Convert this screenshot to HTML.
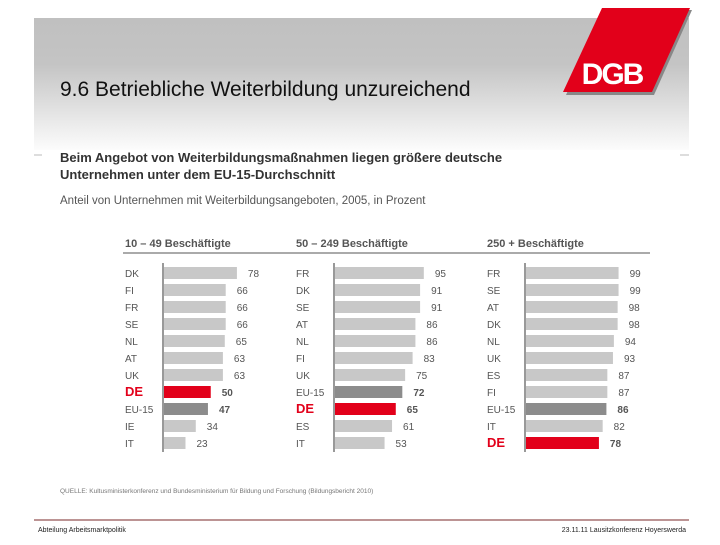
<!DOCTYPE html>
<html><head><meta charset="utf-8"><style>
html,body{margin:0;padding:0;background:#fff}
body{width:720px;height:540px;overflow:hidden;position:relative;font-family:"Liberation Sans",sans-serif}
</style></head><body>
<svg width="720" height="540" xmlns="http://www.w3.org/2000/svg">
<defs><linearGradient id="g" x1="0" y1="0" x2="0" y2="1">
<stop offset="0" stop-color="#c0c0c0"/><stop offset="0.35" stop-color="#c4c4c4"/><stop offset="1" stop-color="#fcfcfc"/></linearGradient></defs>
<rect x="34" y="18" width="655" height="132" fill="url(#g)"/>
<text x="60" y="96" font-size="21" fill="#111">9.6 Betriebliche Weiterbildung unzureichend</text>
<g>
<polygon points="604,10 692,10 654,95 566,95" fill="#888"/>
<polygon points="602,8 690,8 652,92 563,92" fill="#e2001a"/>
<text x="612" y="84" font-size="30" font-weight="bold" fill="#fff" text-anchor="middle" letter-spacing="-2" font-family="Liberation Sans,sans-serif">DGB</text>
</g>
<line x1="34" y1="155" x2="42" y2="155" stroke="#bbb"/><line x1="680" y1="155" x2="689" y2="155" stroke="#bbb"/>
<text x="60" y="162" font-size="13" font-weight="bold" fill="#333">Beim Angebot von Weiterbildungsmaßnahmen liegen größere deutsche</text>
<text x="60" y="179" font-size="13" font-weight="bold" fill="#333">Unternehmen unter dem EU-15-Durchschnitt</text>
<text x="60" y="204" font-size="11.5" fill="#555">Anteil von Unternehmen mit Weiterbildungsangeboten, 2005, in Prozent</text>
<line x1="123" y1="253" x2="650" y2="253" stroke="#555" stroke-width="1"/>
<g id="charts"></g>
<text x="60" y="493" font-size="6.5" fill="#777">QUELLE: Kultusministerkonferenz und Bundesministerium für Bildung und Forschung (Bildungsbericht 2010)</text>
<line x1="34" y1="520" x2="689" y2="520" stroke="#7a2a2a" stroke-width="1"/>
<text x="38" y="532" font-size="7" fill="#222">Abteilung Arbeitsmarktpolitik</text>
<text x="686" y="532" font-size="7" fill="#222" text-anchor="end">23.11.11 Lausitzkonferenz Hoyerswerda</text>
</svg>
<script>
const titles = ["10 – 49 Beschäftigte","50 – 249 Beschäftigte","250 + Beschäftigte"];
const cats1 = ["DK","FI","FR","SE","NL","AT","UK","DE","EU-15","IE","IT"];
const vals1 = [78,66,66,66,65,63,63,50,47,34,23];
const cats2 = ["FR","DK","SE","AT","NL","FI","UK","EU-15","DE","ES","IT"];
const vals2 = [95,91,91,86,86,83,75,72,65,61,53];
const cats3 = ["FR","SE","AT","DK","NL","UK","ES","FI","EU-15","IT","DE"];
const vals3 = [99,99,98,98,94,93,87,87,86,82,78];
const panels=[{c:cats1,v:vals1,lx:125,bx:164},{c:cats2,v:vals2,lx:296,bx:335},{c:cats3,v:vals3,lx:487,bx:526}];
const NS="http://www.w3.org/2000/svg";
const g=document.getElementById('charts');
const xs=v=>v*0.935;
const ys=i=>273+i*17;
function mk(t,a){const e=document.createElementNS(NS,t);for(const k in a)e.setAttribute(k,a[k]);g.appendChild(e);return e;}
panels.forEach((p,pi)=>{
  const h=mk('text',{x:p.lx,y:247,'font-size':11,'font-weight':'bold',fill:'#555'});h.textContent=titles[pi];
  
  
  const ax=mk('line',{x1:p.bx-1,y1:263,x2:p.bx-1,y2:452,stroke:'#333'});
  
  
  p.c.forEach((c,i)=>{
    const isDE=c==='DE',isEU=c==='EU-15';
    const col=isDE?'#e2001a':isEU?'#8c8c8c':'#c8c8c8';
    const l=mk('text',{x:p.lx,y:ys(i)+4,'font-size':isDE?13:10,'font-weight':isDE?'bold':'normal',fill:isDE?'#e2001a':'#555'});l.textContent=c;
    
    
    const b=mk('rect',{x:p.bx,y:ys(i)-6,width:xs(p.v[i]),height:12,fill:col});
    
    
    const vt=mk('text',{x:p.bx+xs(p.v[i])+11,y:ys(i)+4,'font-size':10,'font-weight':(isDE||isEU)?'bold':'normal',fill:'#555'});vt.textContent=p.v[i];
    
    
  });
});
</script>
</body></html>
